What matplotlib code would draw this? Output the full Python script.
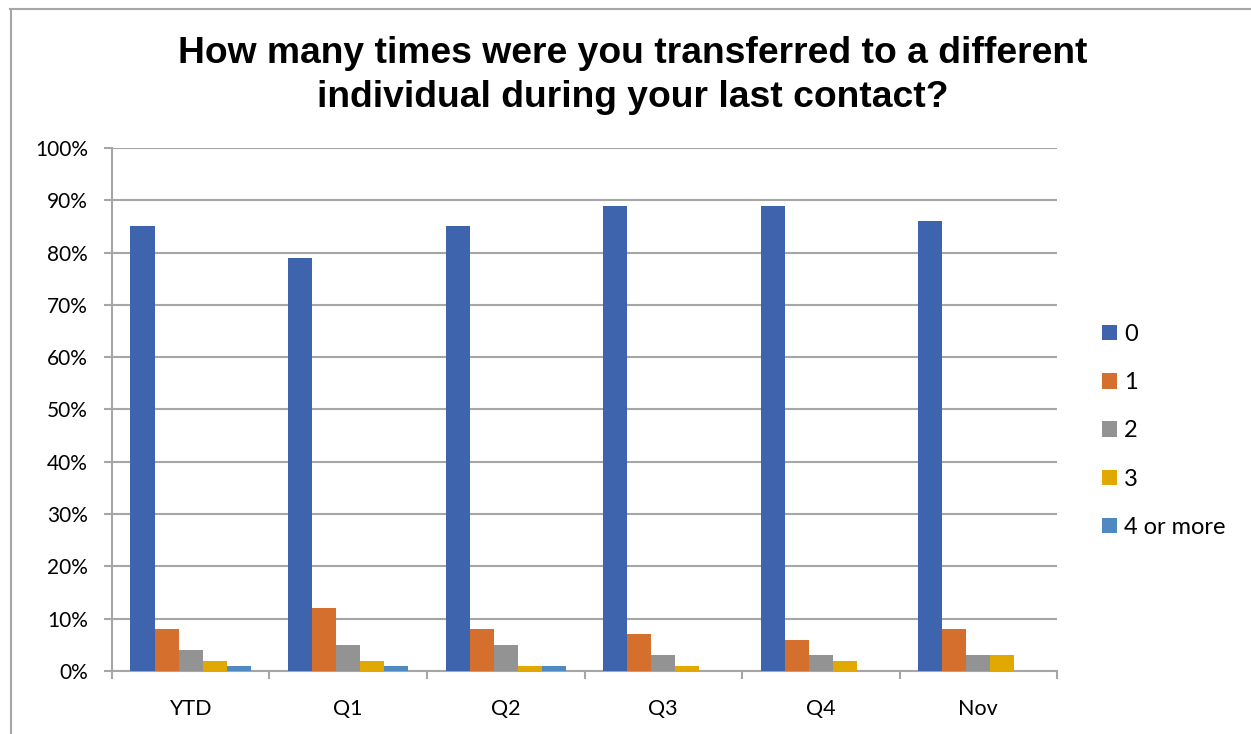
import matplotlib.pyplot as plt
from matplotlib.lines import Line2D
from matplotlib.patches import Patch
import numpy as np

# survey answers, percent of respondents per period
periods = ['YTD', 'Q1', 'Q2', 'Q3', 'Q4', 'Nov']
answers = ['0', '1', '2', '3', '4 or more']
zero_transfers = [85, 79, 85, 89, 89, 86]
one_transfer = [8, 12, 8, 7, 6, 8]
two_transfers = [4, 5, 5, 3, 3, 3]
three_transfers = [2, 2, 1, 1, 2, 3]
four_plus = [1, 1, 1, 0, 0, 0]

series = [zero_transfers, one_transfer, two_transfers, three_transfers, four_plus]
colors = ['#3D64AD', '#D46F2D', '#939393', '#E1A900', '#4F89C2']

plt.rcParams['font.family'] = ['Lato', 'DejaVu Sans']

fig = plt.figure(figsize=(12.51, 7.34), dpi=100)
ax = fig.add_axes([0.0895, 0.0858, 0.7555, 0.7126])

x = np.arange(len(periods))
bw = 0.153
for i, (vals, c) in enumerate(zip(series, colors)):
    ax.bar(x + (i - 2) * bw, vals, width=bw, color=c, label=answers[i], zorder=3)

ax.set_xlim(-0.5, len(periods) - 0.5)
ax.set_ylim(0, 100)
ax.set_yticks(range(0, 101, 10))
ax.set_yticklabels(['%d%%' % v for v in range(0, 101, 10)], fontsize=15)
ax.yaxis.grid(True, color='#A6A6A6', linewidth=1.5, zorder=0)

# category labels centred, tick marks at the category boundaries
ax.set_xticks(x)
ax.set_xticklabels(periods, fontsize=15.5)
ax.tick_params(axis='x', length=0, pad=20)
ax.set_xticks(np.arange(-0.5, len(periods)), minor=True)
ax.tick_params(axis='x', which='minor', length=5.8, width=1.5, color='#A6A6A6')
ax.tick_params(axis='y', length=5.8, width=1.5, color='#A6A6A6', pad=11.5)

for s in ['top', 'right']:
    ax.spines[s].set_visible(False)
for s in ['left', 'bottom']:
    ax.spines[s].set_color('#A6A6A6')
    ax.spines[s].set_linewidth(1.5)

fig.text(0.506, 0.897, 'How many times were you transferred to a different\nindividual during your last contact?',
         ha='center', va='center', fontsize=26.8, fontweight='bold',
         family='Liberation Sans', linespacing=1.32)

handles = [Patch(facecolor=c, edgecolor='none') for c in colors]
fig.legend(handles, answers, loc='center left', bbox_to_anchor=(0.864, 0.413),
           frameon=False, fontsize=17, handlelength=0.62, handleheight=0.62,
           handletextpad=0.3, labelspacing=1.15)

# outer chart border (top and left edges)
fig.add_artist(Line2D([10 / 1251, 1.0], [1 - 8.5 / 734] * 2, color='#A6A6A6', lw=1.5))
fig.add_artist(Line2D([10.5 / 1251] * 2, [0, 1 - 8.5 / 734], color='#A6A6A6', lw=1.5))

fig.savefig('out.png', dpi=100)
